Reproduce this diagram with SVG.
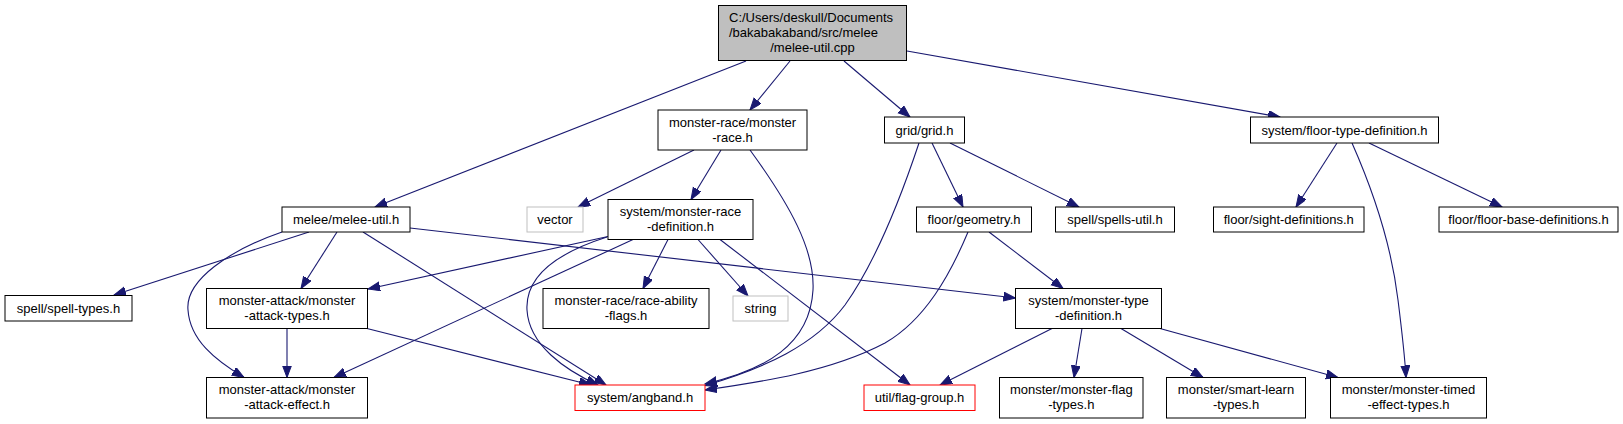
<svg xmlns="http://www.w3.org/2000/svg" width="1623" height="424" viewBox="0 0 1623 424">
<style>
.n rect{fill:#fff;stroke:#000;stroke-width:1}
.n.main rect{fill:#bfbfbf}
.n.ext rect{stroke:#bfbfbf}
.n.red rect{stroke:#ff0000}
text{font-family:"Liberation Sans",Arial,sans-serif;font-size:13px;fill:#000}
.c{text-anchor:middle}
#edges path{fill:none;stroke:#191970;stroke-width:1.1;marker-end:url(#arr)}
</style>
<defs>
<marker id="arr" markerUnits="userSpaceOnUse" markerWidth="13" markerHeight="10" refX="12" refY="4.5" orient="auto">
<path d="M0,0 L12,4.5 L0,9 z" fill="#191970" stroke="#191970" stroke-width="1"/>
</marker>
</defs>
<rect width="1623" height="424" fill="#fff"/>
<g id="edges">
<path d="M746,61 L375,207"/>
<path d="M790,61 L750,110"/>
<path d="M844,61 L910,117"/>
<path d="M907,51 L1280,117"/>
<path d="M694,150 L578,207"/>
<path d="M721,150 L691,199.5"/>
<path d="M750,150 C790,205 815,250 813,290 C810,345 765,370 705,384"/>
<path d="M919,143 C895,215 870,270 845,305 C815,345 765,368 705,385.5"/>
<path d="M932,143 L963,207"/>
<path d="M950,143 L1079,207"/>
<path d="M1337,143 L1296,207"/>
<path d="M1352,143 C1375,195 1392,250 1398,300 C1403,340 1405,360 1406,377.5"/>
<path d="M1369,143 L1502,207"/>
<path d="M309,232 L114,295"/>
<path d="M337,232 L301,288.5"/>
<path d="M282,232 C230,250 185,280 188,310 C190,340 215,360 244,377.5"/>
<path d="M363,232 L606,385"/>
<path d="M410,228 L1015.5,298"/>
<path d="M608,236.5 L368,289"/>
<path d="M633,239.5 L334,377.5"/>
<path d="M607,237 C560,252 525,275 527,310 C529,345 565,370 598,385"/>
<path d="M668,239.5 L643,288.5"/>
<path d="M698,239.5 L748,296"/>
<path d="M720,239.5 L910,385"/>
<path d="M968,232 C950,275 925,320 885,343 C830,372 760,382 705,390"/>
<path d="M989,232 L1063,288.5"/>
<path d="M1052,328.5 L940,385"/>
<path d="M1082,328.5 L1074,377.5"/>
<path d="M1121,328.5 L1203,377.5"/>
<path d="M1160,328.5 L1338,377.5"/>
<path d="M287,328.5 L287,377.5"/>
<path d="M367,328.5 L591,385"/>
</g>
<g id="main" class="n main"><rect x="718.5" y="5.5" width="188" height="55"/><text x="729" y="22">C:/Users/deskull/Documents</text><text x="729" y="37">/bakabakaband/src/melee</text><text x="812.5" y="52" class="c">/melee-util.cpp</text></g>
<g id="monster-race" class="n"><rect x="658" y="110" width="149" height="40"/><text x="732.5" y="126.5" class="c">monster-race/monster</text><text x="732.5" y="141.5" class="c">-race.h</text></g>
<g id="grid" class="n"><rect x="884.5" y="117" width="80" height="26"/><text x="924.5" y="134.5" class="c">grid/grid.h</text></g>
<g id="floor-type-definition" class="n"><rect x="1250.5" y="117" width="188" height="26"/><text x="1344.5" y="134.5" class="c">system/floor-type-definition.h</text></g>
<g id="melee-util" class="n"><rect x="282" y="207" width="128" height="25"/><text x="346" y="224" class="c">melee/melee-util.h</text></g>
<g id="vector" class="n ext"><rect x="527" y="207" width="56" height="25"/><text x="555" y="224" class="c">vector</text></g>
<g id="monster-race-definition" class="n"><rect x="608" y="199.5" width="145" height="40"/><text x="680.5" y="216" class="c">system/monster-race</text><text x="680.5" y="231" class="c">-definition.h</text></g>
<g id="geometry" class="n"><rect x="916.5" y="207" width="115" height="25"/><text x="974" y="224" class="c">floor/geometry.h</text></g>
<g id="spells-util" class="n"><rect x="1055.5" y="207" width="119" height="25"/><text x="1115" y="224" class="c">spell/spells-util.h</text></g>
<g id="sight-definitions" class="n"><rect x="1213.5" y="207" width="150.5" height="25"/><text x="1288.7" y="224" class="c">floor/sight-definitions.h</text></g>
<g id="floor-base-definitions" class="n"><rect x="1439" y="207" width="179" height="25"/><text x="1528.5" y="224" class="c">floor/floor-base-definitions.h</text></g>
<g id="spell-types" class="n"><rect x="5" y="295.5" width="127" height="25.5"/><text x="68.5" y="312.5" class="c">spell/spell-types.h</text></g>
<g id="monster-attack-types" class="n"><rect x="206.5" y="288.5" width="161" height="40"/><text x="287" y="305" class="c">monster-attack/monster</text><text x="287" y="320" class="c">-attack-types.h</text></g>
<g id="race-ability-flags" class="n"><rect x="543" y="288.5" width="166" height="40"/><text x="626" y="305" class="c">monster-race/race-ability</text><text x="626" y="320" class="c">-flags.h</text></g>
<g id="string" class="n ext"><rect x="733" y="296" width="55" height="25"/><text x="760.5" y="313" class="c">string</text></g>
<g id="monster-type-definition" class="n"><rect x="1015.5" y="288.5" width="146" height="40"/><text x="1088.5" y="305" class="c">system/monster-type</text><text x="1088.5" y="320" class="c">-definition.h</text></g>
<g id="monster-attack-effect" class="n"><rect x="206.5" y="377.5" width="161" height="40.5"/><text x="287" y="394" class="c">monster-attack/monster</text><text x="287" y="409" class="c">-attack-effect.h</text></g>
<g id="angband" class="n red"><rect x="575" y="385" width="130" height="25.5"/><text x="640" y="402" class="c">system/angband.h</text></g>
<g id="flag-group" class="n red"><rect x="864" y="385" width="111" height="25.5"/><text x="919.5" y="402" class="c">util/flag-group.h</text></g>
<g id="monster-flag-types" class="n"><rect x="999.5" y="377.5" width="143.5" height="40.5"/><text x="1071.3" y="394" class="c">monster/monster-flag</text><text x="1071.3" y="409" class="c">-types.h</text></g>
<g id="smart-learn-types" class="n"><rect x="1166.5" y="377.5" width="139" height="40.5"/><text x="1236" y="394" class="c">monster/smart-learn</text><text x="1236" y="409" class="c">-types.h</text></g>
<g id="monster-timed-effect-types" class="n"><rect x="1330.5" y="377.5" width="156" height="40.5"/><text x="1408.5" y="394" class="c">monster/monster-timed</text><text x="1408.5" y="409" class="c">-effect-types.h</text></g>
</svg>
